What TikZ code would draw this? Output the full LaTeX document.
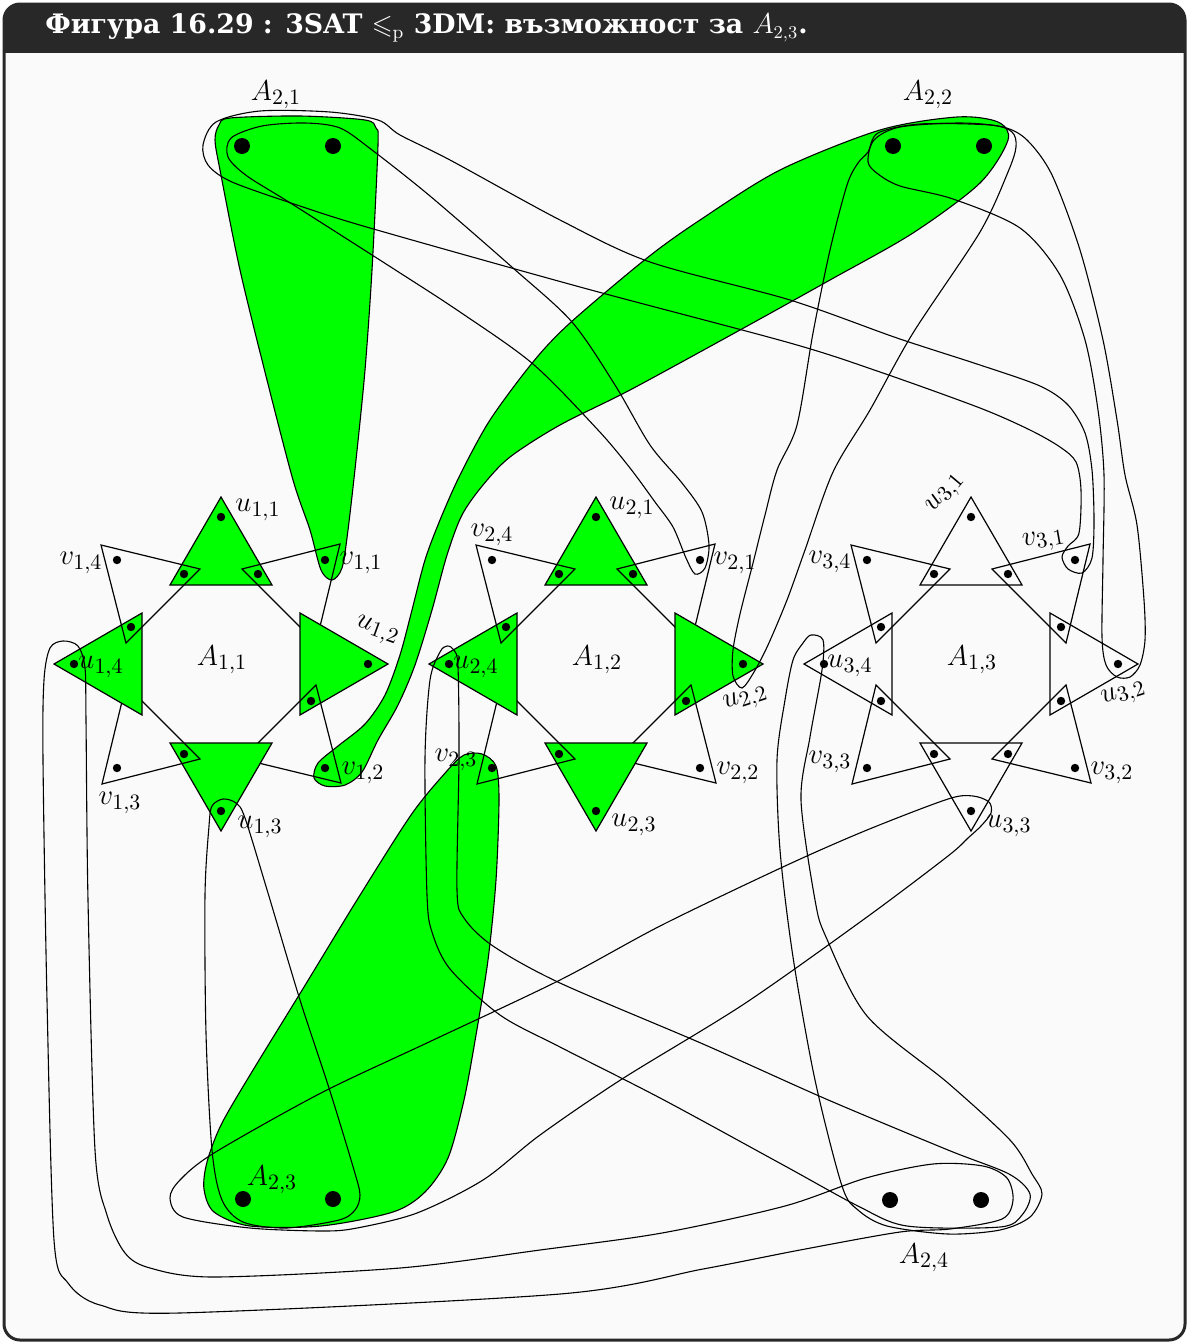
\documentclass[tikz,border=0pt]{standalone}
\usepackage{amsmath}
\usepackage{amssymb}
\usepackage{fontspec}
\newfontfamily\titlefont{DejaVu Serif}
\usepackage{tikz}
\usetikzlibrary{positioning}
\definecolor{chosen}{HTML}{00FF00}
\definecolor{panel}{HTML}{FAFAFA}
\definecolor{titlebar}{HTML}{282828}

% one variable gadget: #1 name, #2 centre, #3 fill of the u-triangles
\newcommand{\gadget}[3]{%
  \begin{scope}[shift={#2}]
    \foreach \k/\r in {1/0, 2/-90, 3/-180, 4/-270} {
      \begin{scope}[rotate=\r]
        \path[utri, fill=#3] (0,-167) -- (51,-79) -- (-51,-79) -- cycle;
        \path[vtri] (119,-120) -- (21,-95) -- (95,-21) -- cycle;
        \node[dot] (#1u\k) at (0,-147) {};
        \node[dot] (#1v\k) at (104,-104) {};
        \node[dot] (#1a\k) at (37,-90) {};
        \node[dot] (#1b\k) at (90,-37) {};
      \end{scope}
    }
  \end{scope}}

\begin{document}
\begin{tikzpicture}[
    x=0.5pt, y=-0.5pt,
    every node/.style={inner sep=0pt},
    lbl/.style={font=\fontsize{15}{18}\selectfont},
    dot/.style={circle, fill=black, minimum size=4.2pt},
    bigdot/.style={circle, fill=black, minimum size=8pt},
    utri/.style={draw=black, line width=0.6pt},
    vtri/.style={draw=black, line width=0.6pt},
    hedge/.style={draw=black, line width=0.55pt},
    pick/.style={draw=black, fill=chosen, line width=0.55pt}
  ]
  \useasboundingbox (0,0) rectangle (1189,1344);

  % --- Frame and title ---
  \begin{scope}
    \clip[rounded corners=8] (4,4) rectangle (1185,1340);
    \fill[panel] (4,4) rectangle (1185,1340);
    \fill[titlebar] (4,4) rectangle (1185,53);
  \end{scope}
  \draw[titlebar, line width=1.5pt, rounded corners=8] (4,4) rectangle (1185,1340);
  \node[anchor=west, text=white, font={\titlefont\bfseries\fontsize{13.4}{15}\selectfont}] (title) at (45,28)
    {Фигура 16.29 : 3SAT $\leqslant_{\mathrm{p}}$ 3DM: възможност за $A_{2,3}$.};

  % --- Chosen triples (green) ---
  \path[pick] plot[smooth cycle, tension=0.5] coordinates {
    (230,118) (300,116) (365,120) (376,128) (378,145) (372,270) (365,370) (356,460)
    (348,530) (342,568) (332,580) (321,570) (310,530) (293,480) (267,380) (240,270)
    (220,170) (215,140) (219,125)};
  \path[pick] plot[smooth cycle, tension=0.5] coordinates {
    (1008,140) (980,183) (913,233) (830,280) (740,330) (630,390) (560,425) (510,457)
    (483,485) (462,515) (447,555) (432,610) (415,665) (398,705) (378,740) (362,772)
    (345,785) (325,786) (314,778) (318,763) (338,746) (365,724) (385,695) (400,655)
    (412,610) (425,560) (440,520) (460,475) (490,420) (533,362) (570,323) (647,258)
    (700,220) (780,170) (880,130) (957,117) (998,122)};
  \path[pick] plot[smooth cycle, tension=0.5] coordinates {
    (464,755) (482,754) (496,766) (499,800) (496,880) (488,960) (476,1035) (464,1100)
    (448,1158) (425,1192) (393,1212) (321,1226) (250,1226) (214,1212) (204,1189)
    (207,1162) (221,1125) (250,1075) (304,987) (357,900) (411,815) (446,772)};

  % --- Variable gadgets ---
  \gadget{g1}{(221,664)}{chosen}
  \gadget{g2}{(596,664)}{chosen}
  \gadget{g3}{(971,664)}{none}

  % --- Other triples ---
  \path[hedge] plot[smooth cycle, tension=0.5] coordinates {
    (340,128) (372,150) (430,196) (513,268) (572,322) (615,385) (650,445) (682,483)
    (702,512) (709,545) (705,568) (695,574) (686,558) (673,527) (655,502) (630,468)
    (598,430) (533,364) (460,312) (397,271) (292,204) (247,176) (228,157) (231,138)
    (262,126) (305,123)};
  \path[hedge] plot[smooth cycle, tension=0.5] coordinates {
    (400,135) (450,160) (560,220) (650,262) (790,300) (897,338) (980,365) (1040,386)
    (1068,405) (1085,433) (1092,470) (1094,520) (1092,558) (1082,573) (1068,569)
    (1062,557) (1068,546) (1079,533) (1081,490) (1076,462) (1060,447) (1030,430)
    (980,408) (880,372) (790,343) (580,287) (370,228) (300,206) (232,182) (208,165)
    (203,145) (216,122) (260,111) (330,112) (378,120)};
  \path[hedge] plot[smooth cycle, tension=0.5] coordinates {
    (868,152) (878,133) (920,124) (990,125) (1012,132) (1016,147) (1008,172) (980,232)
    (913,333) (870,410) (833,472) (805,550) (787,600) (768,645) (754,672) (742,688)
    (733,676) (733,650) (740,614) (753,563) (765,515) (777,470) (797,425) (813,333)
    (830,250) (847,185) (858,163)};
  \path[hedge] plot[smooth cycle, tension=0.5] coordinates {
    (868,162) (874,140) (900,127) (960,123) (1003,127) (1027,140) (1052,175)
    (1080,250) (1103,340) (1117,420) (1125,475) (1137,525) (1144,600) (1145,640)
    (1140,665) (1130,677) (1117,677) (1106,665) (1102,637) (1103,560) (1104,475)
    (1098,410) (1085,340) (1060,275) (1020,228) (953,199) (900,186) (878,174)};
  \path[hedge] plot[smooth cycle, tension=0.5] coordinates {
    (209,826) (212,806) (223,799) (236,803) (245,818) (268,893) (300,1000) (329,1088)
    (354,1170) (360,1195) (355,1210) (339,1220) (286,1228) (243,1222) (222,1200)
    (212,1150) (206,1033) (205,895)};
  \path[hedge] plot[smooth cycle, tension=0.5] coordinates {
    (948,799) (973,796) (989,802) (991,813) (981,826) (968,838) (948,856) (867,917)
    (744,1004) (622,1079) (540,1135) (483,1180) (417,1213) (357,1228) (323,1231)
    (250,1228) (183,1217) (170,1198) (180,1180) (214,1153) (321,1093) (429,1042)
    (560,980) (662,925) (785,866) (867,830)};
  \path[hedge] plot[smooth cycle, tension=0.5] coordinates {
    (50,648) (63,641) (78,646) (85,668) (86,720) (88,900) (95,1150) (107,1215)
    (125,1253) (150,1268) (214,1277) (400,1268) (540,1250) (662,1233) (785,1206)
    (866,1178) (933,1164) (983,1166) (1007,1178) (1013,1200) (1002,1219) (950,1229)
    (900,1232) (800,1250) (703,1269) (560,1294) (179,1313) (100,1305) (68,1283)
    (54,1240) (47,1000) (43,760) (44,680)};
  \path[hedge] plot[smooth cycle, tension=0.5] coordinates {
    (440,652) (447,646) (454,650) (458,667) (459,758) (457,890) (464,918) (493,946)
    (560,983) (703,1044) (826,1099) (948,1150) (1009,1174) (1030,1194) (1022,1215)
    (1000,1227) (907,1226) (858,1206) (785,1166) (662,1099) (560,1047) (500,1015)
    (450,969) (432,932) (427,895) (425,758) (430,680)};
  \path[hedge] plot[smooth cycle, tension=0.5] coordinates {
    (803,643) (811,635) (823,640) (822,670) (810,737) (801,800) (815,900) (826,937)
    (867,1016) (948,1083) (1010,1140) (1032,1174) (1042,1194) (1030,1217) (1000,1230)
    (948,1234) (887,1226) (858,1210) (842,1186) (815,1080) (793,957) (780,850)
    (777,760) (785,700) (793,660)};

  % --- Pairs A_{2,j} ---
  \node[bigdot] (p11) at (242,146) {};
  \node[bigdot] (p12) at (333,146) {};
  \node[bigdot] (p21) at (893,146) {};
  \node[bigdot] (p22) at (984,146) {};
  \node[bigdot] (p31) at (243,1199) {};
  \node[bigdot] (p32) at (333,1199) {};
  \node[bigdot] (p41) at (890,1200) {};
  \node[bigdot] (p42) at (981,1200) {};
  \node[lbl] (la21) at (276,95) {$A_{2,1}$};
  \node[lbl] (la22) at (928,95) {$A_{2,2}$};
  \node[lbl] (la23) at (272,1180) {$A_{2,3}$};
  \node[lbl] (la24) at (924,1258) {$A_{2,4}$};

  % --- Labels of gadget 1 ---
  \node[lbl] (la11) at (222,660) {$A_{1,1}$};
  \node[lbl] (lu11) at (258,510) {$u_{1,1}$};
  \node[lbl] (lv11) at (361,563) {$v_{1,1}$};
  \node[lbl, rotate=-20] (lu12) at (377,631) {$u_{1,2}$};
  \node[lbl] (lv12) at (363,773) {$v_{1,2}$};
  \node[lbl] (lu13) at (260,827) {$u_{1,3}$};
  \node[lbl] (lv13) at (120,803) {$v_{1,3}$};
  \node[lbl] (lu14) at (101,667) {$u_{1,4}$};
  \node[lbl] (lv14) at (81,563) {$v_{1,4}$};

  % --- Labels of gadget 2 ---
  \node[lbl] (la12) at (597,660) {$A_{1,2}$};
  \node[lbl] (lu21) at (632,508) {$u_{2,1}$};
  \node[lbl] (lv21) at (735,563) {$v_{2,1}$};
  \node[lbl, rotate=18] (lu22) at (746,700) {$u_{2,2}$};
  \node[lbl] (lv22) at (738,773) {$v_{2,2}$};
  \node[lbl] (lu23) at (634,825) {$u_{2,3}$};
  \node[lbl] (lv23) at (456,760) {$v_{2,3}$};
  \node[lbl] (lu24) at (476,667) {$u_{2,4}$};
  \node[lbl] (lv24) at (492,535) {$v_{2,4}$};

  % --- Labels of gadget 3 ---
  \node[lbl] (la13) at (972,660) {$A_{1,3}$};
  \node[lbl, rotate=50] (lu31) at (946,494) {$u_{3,1}$};
  \node[lbl, rotate=10] (lv31) at (1044,541) {$v_{3,1}$};
  \node[lbl, rotate=18] (lu32) at (1124,695) {$u_{3,2}$};
  \node[lbl] (lv32) at (1112,773) {$v_{3,2}$};
  \node[lbl] (lu33) at (1009,826) {$u_{3,3}$};
  \node[lbl] (lv33) at (830,762) {$v_{3,3}$};
  \node[lbl] (lu34) at (850,666) {$u_{3,4}$};
  \node[lbl] (lv34) at (830,562) {$v_{3,4}$};

\end{tikzpicture}
\end{document}
